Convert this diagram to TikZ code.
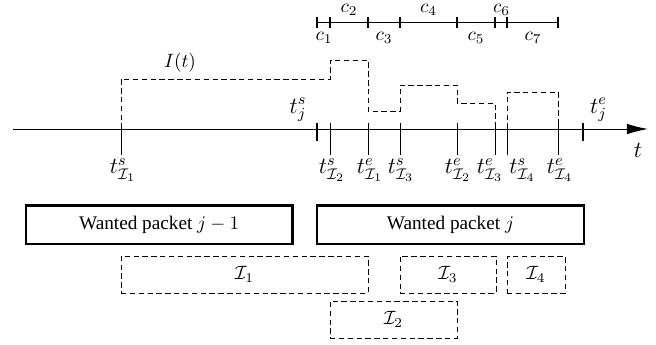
\documentclass[tikz,border=0pt]{standalone}
\usepackage{fontspec}
\setmainfont{Liberation Serif}
\usetikzlibrary{arrows.meta,fit,calc}
\begin{document}
\begin{tikzpicture}[x=0.52pt,y=-0.52pt,
  dsh/.style={dash pattern=on 2.8pt off 1.8pt, line width=0.45pt},
  pkt/.style={draw, line width=1.3pt, inner sep=0pt},
  ibox/.style={draw, dsh, inner sep=0pt},
  thin tick/.style={line width=0.5pt},
  thick tick/.style={line width=1.5pt},
  lbl/.style={inner sep=1pt},
  tl/.style={inner sep=0pt, anchor=north, font=\large}]
\useasboundingbox (0,0) rectangle (656,345);
% time axis
\coordinate (a0) at (13,129);
\coordinate (a1) at (648,129);
\draw[line width=0.5pt,-{Latex[length=11pt,width=5.5pt]}] (a0) -- (a1);
% tick positions
\foreach \n/\x in {I1s/121,I2s/330,I1e/368,I3s/400,I2e/457,I3e/495,I4s/507,I4e/558}{
  \coordinate (\n-top) at (\x,123);
  \coordinate (\n-bot) at (\x,155);
  \draw[thin tick] (\n-top) -- (\n-bot);
}
\foreach \n/\x in {js/317,je/583}{
  \coordinate (\n-top) at (\x,123);
  \coordinate (\n-bot) at (\x,141);
  \draw[thick tick] (\n-top) -- (\n-bot);
}
% tick labels
\node[tl] (lI1s) at ($(I1s-bot)+(2,3)$) {$t^s_{\mathcal{I}_1}$};
\node[tl] (lI2s) at ($(I2s-bot)+(2,3)$) {$t^s_{\mathcal{I}_2}$};
\node[tl] (lI1e) at ($(I1e-bot)+(2,3)$) {$t^e_{\mathcal{I}_1}$};
\node[tl] (lI3s) at ($(I3s-bot)+(1,3)$) {$t^s_{\mathcal{I}_3}$};
\node[tl] (lI2e) at ($(I2e-bot)+(1,3)$) {$t^e_{\mathcal{I}_2}$};
\node[tl] (lI3e) at ($(I3e-bot)+(-5,3)$) {$t^e_{\mathcal{I}_3}$};
\node[tl] (lI4s) at ($(I4s-bot)+(15.5,3)$) {$t^s_{\mathcal{I}_4}$};
\node[tl] (lI4e) at ($(I4e-bot)+(2,3)$) {$t^e_{\mathcal{I}_4}$};
\node[lbl,font=\large] (ljs) at (298,110) {$t^s_j$};
\node[lbl,font=\large] (lje) at (598.5,110) {$t^e_j$};
\node[lbl,font=\large] (lt) at (638,150) {$t$};
% interference level I(t)
\draw[dsh] (121,129) -- (121,79) -- (330,79) -- (330,60) -- (368,60) -- (368,111)
  -- (400,111) -- (400,85) -- (457,85) -- (457,103) -- (495,103) -- (495,129);
\draw[dsh] (507,129) -- (507,92) -- (558,92) -- (558,129);
\node[lbl] (It) at (180,63) {$I(t)$};
% c scale
\coordinate (c0) at (317,22.3);
\coordinate (c8) at (558,22.3);
\draw[line width=0.6pt] (c0) -- (c8);
\foreach \x in {317,330,368,400,457,495,507,558}{
  \draw[line width=0.6pt] (\x,16.7) -- (\x,27.9);
}
\node[lbl] (c1) at (324,37.5) {$c_1$};
\node[lbl] (c2) at (349,10) {$c_2$};
\node[lbl] (c3) at (384,37.5) {$c_3$};
\node[lbl] (c4) at (428.5,10) {$c_4$};
\node[lbl] (c5) at (476,37.5) {$c_5$};
\node[lbl] (c6) at (501.5,10) {$c_6$};
\node[lbl] (c7) at (533,37.5) {$c_7$};
% packets
\node[pkt, fit={(26,205.5)(292.5,244)}, label=center:{Wanted packet $j-1$}] (wp1) {};
\node[pkt, fit={(317,205.5)(584,244)}, label=center:{Wanted packet $j$}] (wp2) {};
% interferers
\node[ibox, fit={(121,256)(368,293)}, label=center:{$\mathcal{I}_1$}] (i1) {};
\node[ibox, fit={(330,301)(457,338)}, label=center:{$\mathcal{I}_2$}] (i2) {};
\node[ibox, fit={(400,256)(496,293)}, label=center:{$\mathcal{I}_3$}] (i3) {};
\node[ibox, fit={(507,256)(565,293)}, label=center:{$\mathcal{I}_4$}] (i4) {};
\end{tikzpicture}
\end{document}
